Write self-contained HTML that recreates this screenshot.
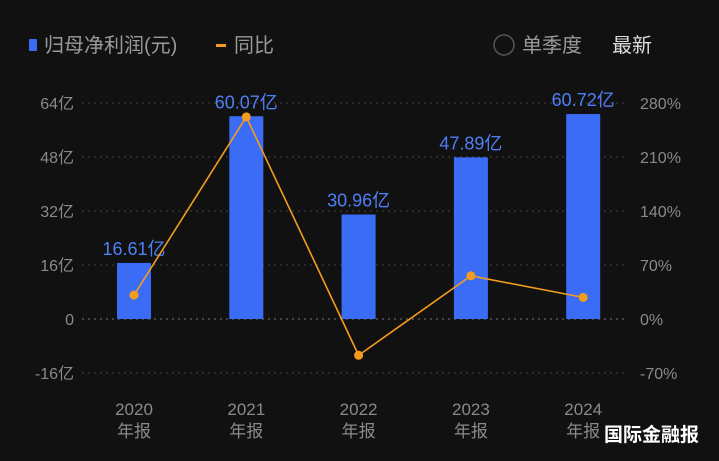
<!DOCTYPE html>
<html><head><meta charset="utf-8"><style>
body{margin:0;background:#111111;width:719px;height:456px;overflow:hidden;font-family:"Liberation Sans","Noto Sans CJK SC",sans-serif;}
svg text{font-family:"Liberation Sans","Noto Sans CJK SC",sans-serif;}
</style></head><body>
<svg id="c" width="719" height="456">
<g>
<rect x="29" y="39" width="8" height="12" rx="1" fill="#3b6cf6"/>
<text x="44" y="52" font-size="20" fill="#9a9a9a">归母净利润(元)</text>
<rect x="216" y="44" width="10" height="3" fill="#f39c1e"/>
<text x="234" y="52" font-size="20" fill="#9a9a9a">同比</text>
<circle cx="504" cy="45" r="10" fill="none" stroke="#555" stroke-width="1.5"/>
<text x="522" y="52" font-size="20" fill="#9a9a9a">单季度</text>
<text x="612" y="52" font-size="20" fill="#dddddd">最新</text>
</g>
<g id="g"></g>
<text x="604" y="441" font-size="19" font-weight="bold" fill="#ffffff">国际金融报</text>
</svg>
<script>
const categories=["2020","2021","2022","2023","2024"];
const profit=[16.61,60.07,30.96,47.89,60.72];
const yoy=[31,262,-47,56,28];
const leftTicks=[64,48,32,16,0,-16];
const rightTicks=[280,210,140,70,0,-70];
const NS="http://www.w3.org/2000/svg";
const g=document.getElementById('g');
const y0=319, pxPerUnit=54/16, pxPerPct=54/70;
const yL=v=>y0-v*pxPerUnit, yR=v=>y0-v*pxPerPct;
const xC=i=>134+i*112.3;
function el(t,a,txt){const e=document.createElementNS(NS,t);for(const k in a)e.setAttribute(k,a[k]);if(txt!=null)e.textContent=txt;g.appendChild(e);return e;}
leftTicks.forEach((v,i)=>{
  const y=yL(v);
  const l=el('line',{x1:82,x2:628,y1:y,y2:y,stroke:v===0?'#777':'#444','stroke-dasharray':'2,4','stroke-width':1});
  
  
  const t=el('text',{x:74,y:y+6,'font-size':16,fill:'#8a8a8a','text-anchor':'end'},v===0?'0':v+'亿');
  
  
  const r=el('text',{x:640,y:y+6,'font-size':16,fill:'#8a8a8a'},rightTicks[i]+'%');
  
  
});
categories.forEach((c,i)=>{
  const x=xC(i),v=profit[i];
  const b=el('rect',{x:x-17,y:Math.min(yL(v),y0),width:34,height:Math.abs(yL(v)-y0),fill:'#3b6cf6'});
  
  
  const t=el('text',{x:x,y:yL(v)-8,'font-size':18,fill:'#4f7ff7','text-anchor':'middle'},v.toFixed(2)+'亿');
  
  
  const a=el('text',{x:x,y:415,'font-size':17,fill:'#8a8a8a','text-anchor':'middle'},c);
  
  
  const a2=el('text',{x:x,y:437,'font-size':17,fill:'#8a8a8a','text-anchor':'middle'},'年报');
  
  
});
const pl=el('polyline',{points:yoy.map((v,i)=>xC(i)+','+yR(v)).join(' '),fill:'none',stroke:'#f39c1e','stroke-width':1.6});


yoy.forEach((v,i)=>{
  const p=el('circle',{cx:xC(i),cy:yR(v),r:4.5,fill:'#f39c1e'});
  
  
});
</script>
</body></html>
